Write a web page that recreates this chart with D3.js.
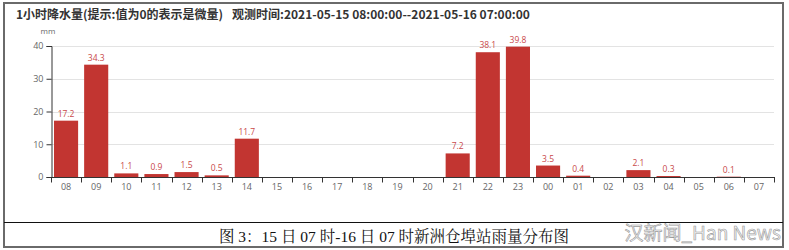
<!DOCTYPE html>
<html>
<head>
<meta charset="utf-8">
<script src="https://cdn.jsdelivr.net/npm/d3@7/dist/d3.min.js"></script>
<style>
  body { margin: 0; background: #fff; }
  svg { display: block; }
</style>
</head>
<body>
<div id="chart"></div>
<script>
// hours of observation window
var hours = ["08", "09", "10", "11", "12", "13", "14", "15", "16", "17", "18", "19",
             "20", "21", "22", "23", "00", "01", "02", "03", "04", "05", "06", "07"];
// hourly rainfall, mm
var rain = [17.2, 34.3, 1.1, 0.9, 1.5, 0.5, 11.7, 0, 0, 0, 0, 0,
            0, 7.2, 38.1, 39.8, 3.5, 0.4, 0, 2.1, 0.3, 0, 0.1, 0];
var yTicks = [0, 10, 20, 30, 40];

var titleLeft = "1小时降水量(提示:值为0的表示是微量)";
var titleRight = "观测时间:2021-05-15 08:00:00--2021-05-16 07:00:00";
var captionText = "图 3：15 日 07 时-16 日 07 时新洲仓埠站雨量分布图";

var svg = d3.select("#chart").append("svg")
    .attr("width", 789)
    .attr("height", 250);

// outer frame + caption separator
svg.append("rect")
    .attr("x", 4).attr("y", 3).attr("width", 779).attr("height", 244)
    .attr("fill", "none").attr("stroke", "#6a6a6a").attr("stroke-width", 2);
svg.append("line")
    .attr("x1", 4).attr("x2", 783).attr("y1", 222.5).attr("y2", 222.5)
    .attr("stroke", "#111").attr("stroke-width", 1);

var x = d3.scaleBand().domain(hours).range([51, 774]).paddingInner(0.2).paddingOuter(0.1);
var xb = d3.scaleBand().domain(hours).range([51, 774]);
var y = d3.scaleLinear().domain([0, 40]).range([177, 46]);

// title
var title = svg.append("text")
    .attr("y", 19)
    .attr("font-family", "'Noto Sans CJK SC', 'Noto Sans', sans-serif")
    .attr("font-weight", "bold")
    .attr("font-size", 12)
    .attr("fill", "#333");
title.append("tspan").attr("x", 16).text(titleLeft);
title.append("tspan").attr("x", 232).text(titleRight);

// horizontal grid
svg.append("g").selectAll("line")
    .data(yTicks.slice(1))
    .enter().append("line")
    .attr("x1", 51).attr("x2", 774)
    .attr("y1", function(d) { return Math.round(y(d)) + 0.5; })
    .attr("y2", function(d) { return Math.round(y(d)) + 0.5; })
    .attr("stroke", "#e3e3e3");

// y axis
var yAxis = svg.append("g")
    .attr("transform", "translate(51.5,0)")
    .call(d3.axisLeft(y).tickValues(yTicks).tickSize(5).tickPadding(3));
yAxis.select(".domain").attr("stroke", "#333");
yAxis.selectAll(".tick line").attr("stroke", "#333");
yAxis.selectAll(".tick text")
    .attr("fill", "#666")
    .attr("font-size", 9)
    .attr("font-family", "'Open Sans', 'DejaVu Sans', sans-serif");

svg.append("text")
    .attr("x", 48).attr("y", 34)
    .attr("text-anchor", "middle")
    .attr("font-size", 8)
    .attr("fill", "#666")
    .attr("font-family", "'Open Sans', 'DejaVu Sans', sans-serif")
    .text("mm");

// bars
svg.append("g").selectAll("rect")
    .data(rain)
    .enter().append("rect")
    .attr("x", function(d, i) { return x(hours[i]); })
    .attr("y", function(d) { return y(d); })
    .attr("width", x.bandwidth())
    .attr("height", function(d) { return 177 - y(d); })
    .attr("fill", "#c23531");

// value labels (only non-zero)
var labelData = rain.map(function(v, i) { return {hour: hours[i], value: v}; })
    .filter(function(d) { return d.value > 0; });
svg.append("g").selectAll("text")
    .data(labelData)
    .enter().append("text")
    .attr("x", function(d) { return xb(d.hour) + xb.bandwidth() / 2; })
    .attr("y", function(d) { return y(d.value) - 4; })
    .attr("text-anchor", "middle")
    .attr("font-size", 8.5)
    .attr("fill", "#c9494a")
    .attr("font-family", "'Open Sans', 'DejaVu Sans', sans-serif")
    .text(function(d) { return d.value; });

// x axis, ticks on band boundaries
var xAxis = svg.append("g")
    .attr("transform", "translate(0,177.5)");
xAxis.append("line")
    .attr("x1", 51).attr("x2", 775)
    .attr("stroke", "#333");
xAxis.selectAll(".tk")
    .data(hours.concat(["end"]))
    .enter().append("line")
    .attr("x1", function(d, i) { return Math.round(51 + i * xb.step()) + 0.5; })
    .attr("x2", function(d, i) { return Math.round(51 + i * xb.step()) + 0.5; })
    .attr("y1", 0).attr("y2", 5)
    .attr("stroke", "#333");
xAxis.selectAll(".lbl")
    .data(hours)
    .enter().append("text")
    .attr("x", function(d) { return xb(d) + xb.bandwidth() / 2; })
    .attr("y", 12)
    .attr("text-anchor", "middle")
    .attr("font-size", 9)
    .attr("fill", "#666")
    .attr("font-family", "'Open Sans', 'DejaVu Sans', sans-serif")
    .text(function(d) { return d; });

// caption
svg.append("text")
    .attr("x", 394).attr("y", 242)
    .attr("text-anchor", "middle")
    .attr("font-size", 15.5)
    .attr("fill", "#111")
    .attr("font-family", "'Liberation Serif', 'Noto Serif CJK SC', serif")
    .text(captionText);

// watermark
svg.append("text")
    .attr("x", 781).attr("y", 240)
    .attr("text-anchor", "end")
    .attr("font-size", 19)
    .attr("fill", "#f4f4f4")
    .attr("stroke", "#9a9a9a")
    .attr("stroke-width", 0.6)
    .attr("font-family", "'Noto Sans CJK SC', 'Liberation Sans', sans-serif")
    .text("汉新闻_Han News");
</script>
</body>
</html>
